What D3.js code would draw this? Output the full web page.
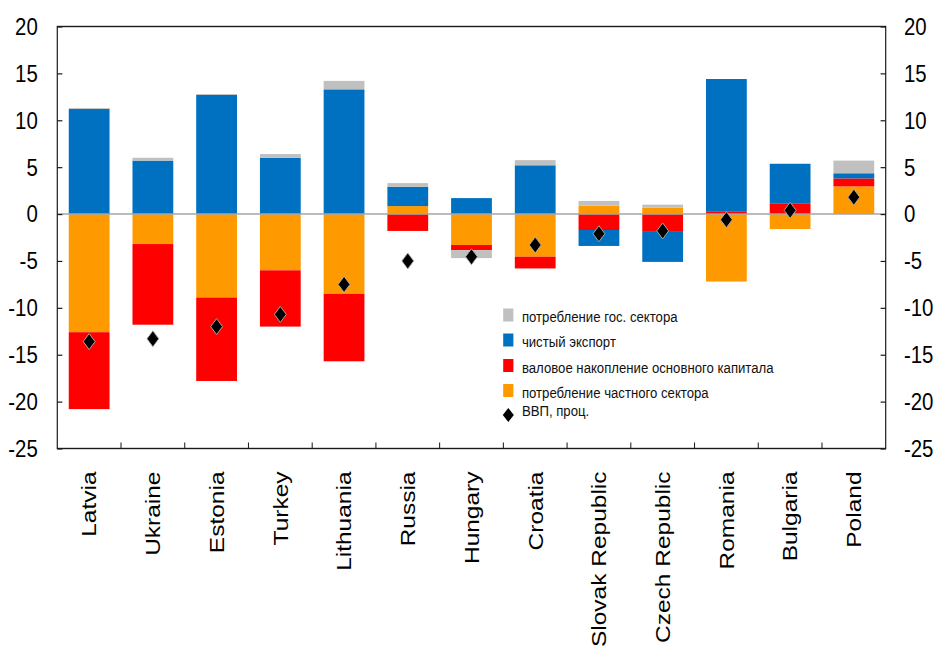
<!DOCTYPE html>
<head>
  <meta charset="utf-8">
  <script src="https://d3js.org/d3.v7.min.js"></script>
  <style>
    body { margin:0; background:#fff; }
    svg { display:block; }
    text { font-family: "Liberation Sans", Arial, sans-serif; fill:#000; }
    .frame { fill:none; stroke:#1a1a1a; stroke-width:1.4px; }
    .zero { stroke:#a6a6a6; stroke-width:1.6px; }
    .axis path { display:none; }
    .axis line { stroke:#1a1a1a; stroke-width:1.2px; }
    .axis text { font-size:24px; }
  </style>
</head>

<body>
  <script>
    // data
    var categories = ["Latvia", "Ukraine", "Estonia", "Turkey", "Lithuania", "Russia", "Hungary",
                      "Croatia", "Slovak Republic", "Czech Republic", "Romania", "Bulgaria", "Poland"];
    var privateCons  = [-12.6, -3.2, -8.9, -6.0, -8.5, 0.85, -3.3, -4.55, 0.9, 0.7, -7.2, -1.6, 2.95];
    var investment   = [-8.2, -8.6, -8.9, -6.0, -7.2, -1.8, -0.55, -1.25, -1.7, -1.9, 0.3, 1.15, 0.85];
    var netExports   = [11.2, 5.7, 12.7, 6.0, 13.3, 2.05, 1.7, 5.2, -1.7, -3.2, 14.1, 4.2, 0.55];
    var govCons      = [0.1, 0.3, 0.1, 0.4, 0.9, 0.4, -0.85, 0.55, 0.5, 0.3, 0, 0.05, 1.35];
    var gdp          = [-13.6, -13.3, -12.0, -10.7, -7.5, -5.0, -4.55, -3.3, -2.1, -1.8, -0.6, 0.4, 1.8];
    var yTicks       = [20, 15, 10, 5, 0, -5, -10, -15, -20, -25];

    var seriesKeys   = ["priv", "inv", "nx", "gov"];
    var seriesColors = {priv: "#ff9900", inv: "#ff0000", nx: "#0070c0", gov: "#c0c0c0"};
    var legendItems  = [
      {key: "gov",  label: "потребление гос. сектора"},
      {key: "nx",   label: "чистый экспорт"},
      {key: "inv",  label: "валовое накопление основного капитала"},
      {key: "priv", label: "потребление частного сектора"},
      {key: "gdp",  label: "ВВП, проц."}
    ];

    // the original picture is squeezed sideways, so draw wider and squeeze the svg
    var squeeze = 0.85;
    var W = 937 / squeeze, H = 654;
    var margin = {top: 26.5, right: W - 1042, bottom: H - 448.5, left: 67.4},
        width = W - margin.left - margin.right,
        height = H - margin.top - margin.bottom;

    var svg = d3.select("body").append("svg")
        .attr("width", 937)
        .attr("height", 654)
        .attr("viewBox", "0 0 " + W + " " + H)
        .attr("preserveAspectRatio", "none");

    var g = svg.append("g")
        .attr("transform", "translate(" + margin.left + "," + margin.top + ")");

    var rows = categories.map(function(c, i) {
      return {cat: c, priv: privateCons[i], inv: investment[i], nx: netExports[i], gov: govCons[i], gdp: gdp[i]};
    });

    var x = d3.scaleBand().domain(categories).range([0, width])
        .paddingInner(0.36).paddingOuter(0.18);
    var y = d3.scaleLinear().domain([-25, 20]).range([height, 0]);

    var stacked = d3.stack().keys(seriesKeys).offset(d3.stackOffsetDiverging)(rows);

    // bars
    g.selectAll(".series").data(stacked).enter()
      .append("g")
        .attr("class", "series")
        .attr("fill", function(d) { return seriesColors[d.key]; })
      .selectAll("rect").data(function(d) { return d; }).enter()
      .append("rect")
        .attr("x", function(d) { return x(d.data.cat); })
        .attr("width", x.bandwidth())
        .attr("y", function(d) { return y(Math.max(d[0], d[1])); })
        .attr("height", function(d) { return Math.abs(y(d[0]) - y(d[1])); });

    // zero line
    g.append("line")
        .attr("class", "zero")
        .attr("x1", 0).attr("x2", width)
        .attr("y1", y(0)).attr("y2", y(0));

    // gdp diamonds
    var diamond = "M0,-8L7,0L0,8L-7,0Z";
    g.selectAll(".gdp").data(rows).enter()
      .append("path")
        .attr("class", "gdp")
        .attr("d", diamond)
        .attr("transform", function(d) { return "translate(" + (x(d.cat) + x.bandwidth() / 2) + "," + y(d.gdp) + ")"; })
        .attr("fill", "#000")
        .attr("stroke", "#b0b0b0")
        .attr("stroke-width", 1);

    // axes (plain hyphen for minus, like the original)
    var fmt = function(d) { return String(d); };

    g.append("g")
        .attr("class", "axis")
        .call(d3.axisLeft(y).tickValues(yTicks).tickFormat(fmt).tickSize(-6).tickPadding(23));

    g.append("g")
        .attr("class", "axis")
        .attr("transform", "translate(" + width + ",0)")
        .call(d3.axisRight(y).tickValues(yTicks).tickFormat(fmt).tickSize(-6).tickPadding(21.5));

    g.selectAll(".axis text").attr("dy", "0.33em");

    // category separators on the bottom
    g.selectAll(".sep").data(categories.slice(1)).enter()
      .append("line")
        .attr("class", "sep")
        .attr("x1", function(d) { return x(d) - x.step() * x.paddingInner() / 2; })
        .attr("x2", function(d) { return x(d) - x.step() * x.paddingInner() / 2; })
        .attr("y1", height).attr("y2", height - 6)
        .attr("stroke", "#1a1a1a").attr("stroke-width", 1.2);

    // frame
    g.append("rect")
        .attr("class", "frame")
        .attr("width", width).attr("height", height);

    // category labels, rotated
    g.selectAll(".cat").data(categories).enter()
      .append("text")
        .attr("class", "cat")
        .attr("transform", function(d) { return "translate(" + (x(d) + x.bandwidth() / 2) + "," + (height + 23) + ") rotate(-90)"; })
        .attr("text-anchor", "end")
        .attr("dy", "0.35em")
        .style("font-size", "24.5px")
        .text(function(d) { return d; });

    // legend
    var legendY = [315, 340, 365.5, 390.5, 415];
    var legend = svg.append("g")
        .attr("transform", "translate(592,0)");

    var li = legend.selectAll(".li").data(legendItems).enter()
      .append("g")
        .attr("class", "li")
        .attr("transform", function(d, i) { return "translate(0," + legendY[i] + ")"; });

    li.filter(function(d) { return d.key != "gdp"; })
      .append("rect")
        .attr("x", 0).attr("y", -6.5)
        .attr("width", 12).attr("height", 13)
        .attr("fill", function(d) { return seriesColors[d.key]; });

    li.filter(function(d) { return d.key == "gdp"; })
      .append("path")
        .attr("d", "M6,-7L12.5,0L6,7L-0.5,0Z")
        .attr("fill", "#000");

    li.append("text")
        .attr("x", 22)
        .attr("y", function(d) { return d.key == "gdp" ? -4 : 2; })
        .attr("dy", "0.35em")
        .style("font-size", "15.5px")
        .style("fill", "#111")
        .text(function(d) { return d.label; });
  </script>
</body>
